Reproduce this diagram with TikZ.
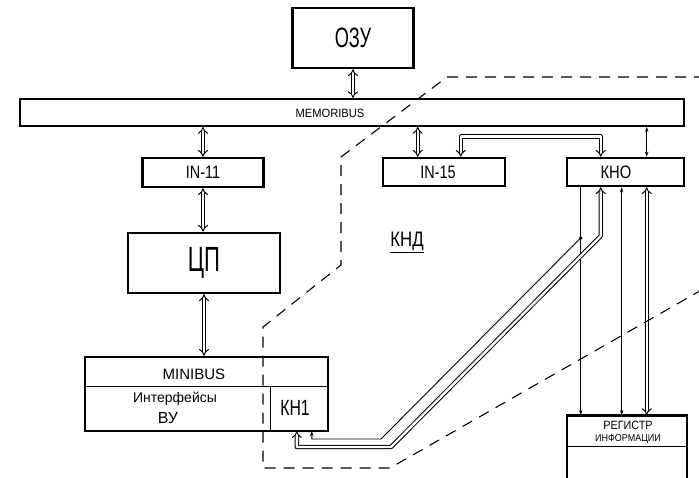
\documentclass[tikz,border=0pt]{standalone}
\usepackage{fontspec}
\usepackage{graphicx}
\setmainfont{Liberation Sans}
\usetikzlibrary{arrows.meta}
\newcommand{\sx}[2]{\scalebox{#1}[1]{#2}}
\begin{document}
\begin{tikzpicture}[x=1pt,y=-1pt,
  box/.style={draw, line width=2.6pt, inner sep=0pt},
  barbox/.style={draw, line width=1.8pt, inner sep=0pt},
  lbl/.style={inner sep=0pt},
  dbl/.style={double, double distance=2.4pt, line width=1pt, {Implies}-{Implies}},
  thinarr/.style={line width=0.9pt, >={Stealth[length=5pt,width=3.5pt]}},
  border/.style={line width=1.1pt, dash pattern=on 11pt off 8pt}]
\fill[white] (0,0) rectangle (699,478);
\clip (0,0) rectangle (699,478);
% boxes
\node[box, minimum width=121pt, minimum height=60pt] (ozu) at (353,38) {\fontsize{28}{28}\selectfont\sx{0.65}{ОЗУ}};
\node[barbox, minimum width=664pt, minimum height=27pt] (membus) at (352,112.5) {};
\node[lbl] (memlbl) at (330,113) {\fontsize{12}{12}\selectfont\sx{0.93}{MEMORIBUS}};
\node[box, minimum width=121pt, minimum height=29pt] (in11) at (203,172.5) {\fontsize{18}{18}\selectfont\sx{0.8}{IN-11}};
\node[box, minimum width=152pt, minimum height=60pt] (cpu) at (204,263) {\fontsize{35}{35}\selectfont\sx{0.63}{ЦП}};
\node[box, minimum width=243pt, minimum height=74pt] (minibus) at (206.5,394) {};
\node[lbl, minimum width=57pt, minimum height=44pt] (kh1) at (299.5,409) {};
\node[lbl] (kh1lbl) at (295,408) {\fontsize{22}{22}\selectfont\sx{0.72}{КН1}};
\draw[line width=1pt] (minibus.west |- kh1.north) -- (minibus.east |- kh1.north);
\draw[line width=1pt] (kh1.north west) -- (kh1.south west);
\node[lbl] (minilbl) at (194,374) {\fontsize{15}{15}\selectfont MINIBUS};
\node[lbl] (intlbl) at (175,399) {\fontsize{14}{14}\selectfont Интерфейсы};
\node[lbl] (vulbl) at (168,418) {\fontsize{16}{16}\selectfont ВУ};
\node[box, minimum width=122pt, minimum height=28pt] (in15) at (444,172) {};
\node[lbl] (in15lbl) at (438,172) {\fontsize{18}{18}\selectfont\sx{0.8}{IN-15}};
\node[box, minimum width=117pt, minimum height=28pt] (kho) at (625.5,172) {};
\node[lbl] (kholbl) at (616,172) {\fontsize{18}{18}\selectfont\sx{0.82}{КНО}};
\node[draw, line width=1.8pt, inner sep=0pt, minimum width=120pt, minimum height=80pt] (reg) at (627,456) {};
\draw[line width=3pt] (reg.north west) -- (reg.north east);
\draw[line width=0.8pt] (reg.west |- 0,446) -- (reg.east |- 0,446);
\node[lbl, align=center] (reglbl) at (628,432) {\fontsize{12}{11}\selectfont\sx{0.9}{РЕГИСТР}\\\sx{0.9}{ИНФОРМАЦИИ}};
\node[lbl] (khdlbl) at (407,242) {\fontsize{21}{21}\selectfont\underline{\sx{0.8}{КНД}}};
% connectors
\draw[dbl] (ozu.south) -- (ozu.south |- membus.north);
\draw[dbl] (in11.north |- membus.south) -- (in11.north);
\draw[dbl] (in11.south) -- (in11.south |- cpu.north);
\draw[dbl] (cpu.south) -- (cpu.south |- minibus.north);
\coordinate (i15a) at ([xshift=36pt]in15.north west);
\draw[dbl] (i15a |- membus.south) -- (i15a);
\coordinate (i15b) at ([xshift=79pt]in15.north west);
\coordinate (khA) at ([xshift=35pt]kho.north west);
\draw[dbl, line join=round] (i15b) -- ++(0,-20) -| (khA);
\coordinate (k81) at ([xshift=81pt]kho.north west);
\draw[thinarr,<->] (k81 |- membus.south) -- (k81);
\coordinate (kb15) at ([xshift=15pt]kho.south west);
\coordinate (kb35) at ([xshift=35pt]kho.south west);
\coordinate (kb56) at ([xshift=56pt]kho.south west);
\coordinate (kb81) at ([xshift=81pt]kho.south west);
\draw[thinarr,->] (kb15) -- (kb15 |- reg.north);
\draw[thinarr,<->] (kb56) -- (kb56 |- reg.north);
\draw[dbl] (kb81) -- (kb81 |- reg.north);
\coordinate (br) at (kb15 |- 0,238);
\fill (br) circle (1.8pt);
\coordinate (kh1a) at ([xshift=41pt]kh1.south west);
\draw[thinarr,->] (br) -- (381,439) -| (kh1a);
\coordinate (kh1b) at ([xshift=26pt]kh1.south west);
\draw[dbl, line join=round] (kb35) -- (kb35 |- 0,236) -- (391,447) -| (kh1b);
% dashed boundary
\draw[border] (705,77) -- (447,77) -- (341,157) -- (341,265) -- (263,327) -- (263,468) -- (390,468) -- (705,288);
\end{tikzpicture}
\end{document}
